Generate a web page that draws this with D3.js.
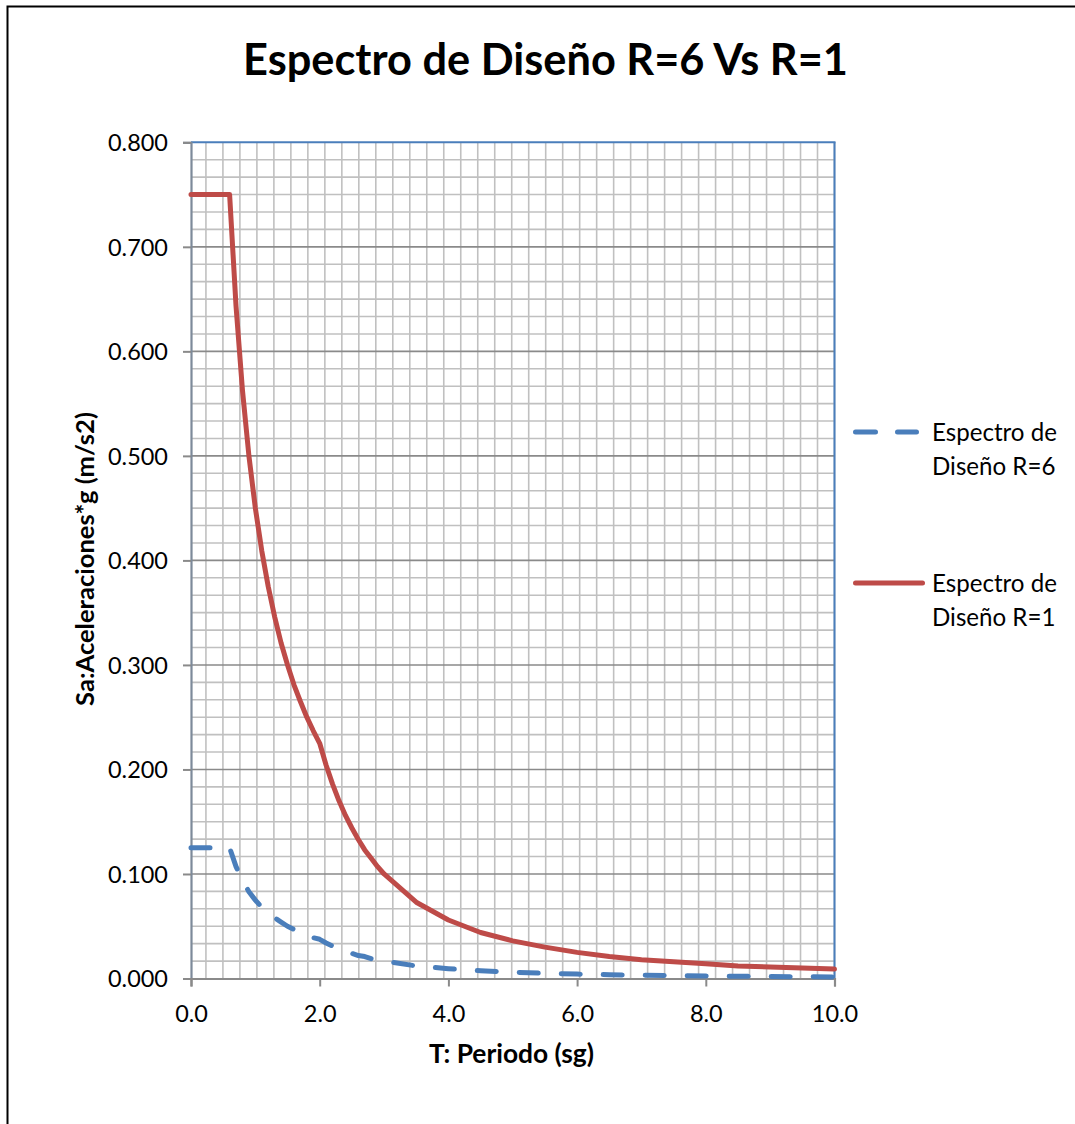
<!DOCTYPE html>
<html>
<head>
<meta charset="utf-8">
<script src="https://cdn.jsdelivr.net/npm/d3@7"></script>
<style>
  html, body { margin: 0; padding: 0; background: #fff; }
  svg { display: block; }
  text { font-family: Lato, "Open Sans", sans-serif; fill: #000; }
</style>
</head>
<body>
<svg id="chart" width="1075" height="1124"></svg>
<script>
// Period values T (s)
const periods = [0, 0.1, 0.2, 0.3, 0.4, 0.5, 0.6, 0.7, 0.8, 0.9, 1.0, 1.1, 1.2, 1.3, 1.4, 1.5,
  1.6, 1.7, 1.8, 1.9, 2.0, 2.1, 2.2, 2.3, 2.4, 2.5, 2.6, 2.7, 2.8, 2.9, 3.0, 3.5, 4.0,
  4.5, 5.0, 5.5, 6.0, 6.5, 7.0, 7.5, 8.0, 8.5, 9.0, 9.5, 10.0];

// Design spectrum, R = 6
const saR6 = [0.125, 0.125, 0.125, 0.125, 0.125, 0.125, 0.125, 0.107, 0.094, 0.083, 0.075,
  0.068, 0.0625, 0.058, 0.054, 0.050, 0.047, 0.044, 0.042, 0.039, 0.0375, 0.034, 0.031,
  0.028, 0.026, 0.024, 0.022, 0.021, 0.019, 0.018, 0.0167, 0.012, 0.0094, 0.0074, 0.006,
  0.005, 0.0042, 0.0036, 0.0031, 0.0027, 0.0023, 0.0021, 0.0019, 0.0017, 0.0015];

// Design spectrum, R = 1
const saR1 = [0.75, 0.75, 0.75, 0.75, 0.75, 0.75, 0.75, 0.643, 0.5625, 0.50, 0.45, 0.409,
  0.375, 0.346, 0.321, 0.300, 0.281, 0.265, 0.250, 0.237, 0.225, 0.204, 0.186, 0.170,
  0.156, 0.144, 0.133, 0.123, 0.115, 0.107, 0.100, 0.073, 0.056, 0.044, 0.036, 0.030,
  0.025, 0.021, 0.018, 0.016, 0.014, 0.012, 0.011, 0.010, 0.009];

const seriesNames = [["Espectro de", "Diseño R=6"], ["Espectro de", "Diseño R=1"]];
const xTicks = [0, 2, 4, 6, 8, 10];
const yTicks = [0, 0.1, 0.2, 0.3, 0.4, 0.5, 0.6, 0.7, 0.8];
const titleText = "Espectro de Diseño R=6 Vs R=1";
const xTitle = "T: Periodo (sg)";
const yTitle = "Sa:Aceleraciones*g (m/s2)";

const BLUE = "#4a7ebb", RED = "#be4b48";
const svg = d3.select("#chart");

// Scale a text's font-size so its rendered width equals the given width
function fitWidth(sel, width) {
  const node = sel.node();
  const fs = parseFloat(sel.attr("font-size"));
  const w = node.getComputedTextLength();
  const nf = fs * width / w;
  sel.attr("font-size", nf);
  return nf;
}

// outer chart frame
svg.append("rect").attr("x", 7.5).attr("y", 6.5).attr("width", 1100).attr("height", 1150)
  .attr("fill", "#fff").attr("stroke", "#000").attr("stroke-width", 2);

const plotLeft = 191, plotRight = 834.5, plotTop = 142.3, plotBottom = 978.5;
const x = d3.scaleLinear().domain([0, 10]).range([plotLeft, plotRight]);
const y = d3.scaleLinear().domain([0, 0.8]).range([plotBottom, plotTop]);

const g = svg.append("g");

// minor vertical gridlines
const vStep = 0.264;
const vLines = d3.range(0, 38).map(k => 10 - k * vStep).filter(v => v > 0.05);
g.selectAll("line.vgrid").data(vLines).join("line").attr("class", "vgrid")
  .attr("x1", d => x(d)).attr("x2", d => x(d)).attr("y1", plotTop).attr("y2", plotBottom)
  .attr("stroke", "#c0c0c0").attr("stroke-width", 1.6);

// minor horizontal gridlines (6 per major step)
const hMinor = d3.range(1, 48).filter(k => k % 6 !== 0).map(k => k * 0.1 / 6);
g.selectAll("line.hminor").data(hMinor).join("line").attr("class", "hminor")
  .attr("x1", plotLeft).attr("x2", plotRight).attr("y1", d => y(d)).attr("y2", d => y(d))
  .attr("stroke", "#c0c0c0").attr("stroke-width", 1.6);

// major horizontal gridlines
g.selectAll("line.hmajor").data(yTicks.filter(v => v > 0 && v < 0.8)).join("line")
  .attr("class", "hmajor")
  .attr("x1", plotLeft).attr("x2", plotRight).attr("y1", d => y(d)).attr("y2", d => y(d))
  .attr("stroke", "#8a8a8a").attr("stroke-width", 1.6);

// plot frame: top and right in blue
g.append("line").attr("x1", plotLeft).attr("x2", plotRight + 1).attr("y1", plotTop).attr("y2", plotTop)
  .attr("stroke", BLUE).attr("stroke-width", 2);
g.append("line").attr("x1", plotRight).attr("x2", plotRight).attr("y1", plotTop).attr("y2", plotBottom)
  .attr("stroke", BLUE).attr("stroke-width", 2);

// axes
const yAxis = d3.axisLeft(y).tickValues(yTicks).tickFormat(d3.format(".3f")).tickSize(8).tickPadding(15);
const yg = svg.append("g").attr("transform", `translate(${plotLeft},0)`).call(yAxis);
yg.select(".domain").attr("stroke", "#7d8a9a").attr("stroke-width", 2.2);
yg.selectAll(".tick line").attr("stroke", "#8a8a8a").attr("stroke-width", 2);
yg.selectAll(".tick text").attr("font-size", 22).attr("font-family", "Lato").attr("dy", "0.36em");

const xAxis = d3.axisBottom(x).tickValues(xTicks).tickFormat(d3.format(".1f")).tickSize(8).tickPadding(19);
const xg = svg.append("g").attr("transform", `translate(0,${plotBottom})`).call(xAxis);
xg.select(".domain").attr("stroke", "#8a8a8a").attr("stroke-width", 2.2);
xg.selectAll(".tick line").attr("stroke", "#8a8a8a").attr("stroke-width", 2);
xg.selectAll(".tick text").attr("font-size", 22).attr("font-family", "Lato");

// size tick labels from the width of the widest y label
const probe = yg.selectAll(".tick text").filter(d => d === 0.8);
const tickFs = fitWidth(probe, 60);
yg.selectAll(".tick text").attr("font-size", tickFs);
xg.selectAll(".tick text").attr("font-size", tickFs);

// series
const rowsR6 = periods.map((t, i) => [t, saR6[i]]);
const rowsR1 = periods.map((t, i) => [t, saR1[i]]);
const line = d3.line().x(d => x(d[0])).y(d => y(d[1]));

svg.append("path").datum(rowsR6).attr("d", line).attr("fill", "none")
  .attr("stroke", BLUE).attr("stroke-width", 5).attr("stroke-linecap", "round")
  .attr("stroke-linejoin", "round").attr("stroke-dasharray", "19,23");
svg.append("path").datum(rowsR1).attr("d", line).attr("fill", "none")
  .attr("stroke", RED).attr("stroke-width", 5).attr("stroke-linecap", "round")
  .attr("stroke-linejoin", "round");

// title
const title = svg.append("text").attr("x", 545.5).attr("y", 75).attr("text-anchor", "middle")
  .attr("font-weight", "bold").attr("font-size", 40).text(titleText);
fitWidth(title, 605);

// axis titles
const xt = svg.append("text").attr("x", 511.5).attr("y", 1063).attr("text-anchor", "middle")
  .attr("font-weight", "bold").attr("font-size", 19).text(xTitle);
fitWidth(xt, 165);
const yt = svg.append("text").attr("transform", "translate(94,559) rotate(-90)")
  .attr("text-anchor", "middle").attr("font-weight", "bold").attr("font-size", 19).text(yTitle);
fitWidth(yt, 294);

// legend
const legend = svg.append("g");
const legendY = [432, 583];
const legendStyles = [
  { color: BLUE, dash: "20,22", x2: 916.5 },
  { color: RED, dash: null, x2: 922.5 }
];
let legendFs = 20;
legendStyles.forEach((s, i) => {
  legend.append("line").attr("x1", 855.5).attr("x2", s.x2).attr("y1", legendY[i]).attr("y2", legendY[i])
    .attr("stroke", s.color).attr("stroke-width", 5).attr("stroke-linecap", "round")
    .attr("stroke-dasharray", s.dash);
  seriesNames[i].forEach((txt, j) => {
    const t = legend.append("text").attr("x", 932).attr("y", legendY[i] + 9 + j * 34)
      .attr("font-size", 20).text(txt);
    if (i === 0 && j === 0) legendFs = fitWidth(t, 125);
  });
});
legend.selectAll("text").attr("font-size", legendFs);
</script>
</body>
</html>
